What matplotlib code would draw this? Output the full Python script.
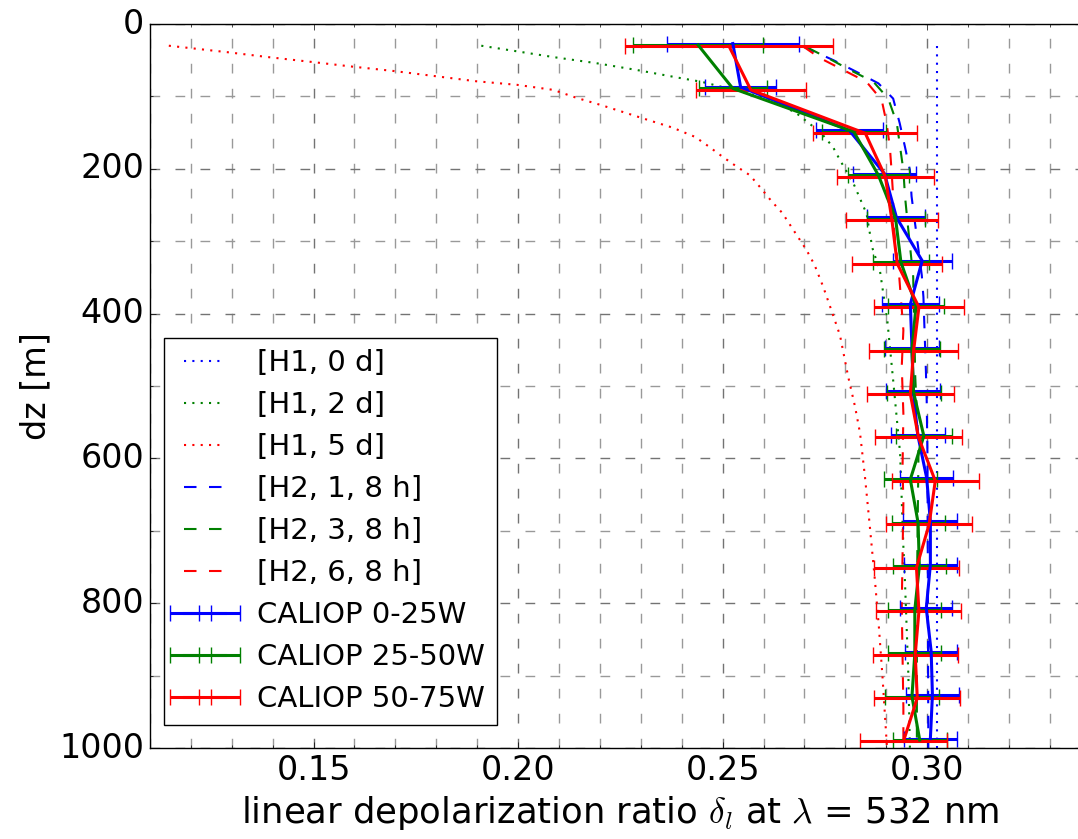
import numpy as np
import matplotlib
matplotlib.use("Agg")
import matplotlib.pyplot as plt
from matplotlib.ticker import MultipleLocator

plt.style.use("classic")
plt.rcParams["figure.facecolor"] = "white"
plt.rcParams["savefig.facecolor"] = "white"
plt.rcParams["mathtext.fontset"] = "cm"
plt.rcParams["lines.scale_dashes"] = True

# model profiles [H1, ...] (dz, delta)
h1_0d_dz = [30, 1000]
h1_0d = [0.3025, 0.3025]

h1_2d_dz = [30, 46, 54, 63.5, 74, 80, 90, 100, 110, 123, 150, 170, 188, 219, 262,
            309, 342, 411, 492, 593, 722, 772, 896, 1000]
h1_2d = [0.191, 0.209, 0.219, 0.229, 0.239, 0.245, 0.252, 0.259, 0.2635, 0.268,
         0.274, 0.277, 0.2787, 0.2819, 0.2852, 0.2866, 0.2885, 0.2903, 0.2917,
         0.2934, 0.2942, 0.2946, 0.2954, 0.2958]

h1_5d_dz = [30, 39, 46, 52.5, 59, 65, 72, 79, 84, 91, 102, 112, 122, 133, 143, 156,
            169.5, 183, 196, 209, 227, 245, 261, 281, 312, 333, 363, 397, 430, 487,
            529, 565, 625, 694, 772, 832, 902, 1000]
h1_5d = [0.1146, 0.129, 0.1393, 0.1497, 0.1597, 0.1697, 0.1797, 0.1896, 0.1997,
         0.2086, 0.2143, 0.2203, 0.2259, 0.232, 0.2377, 0.2433, 0.2467, 0.2499,
         0.2532, 0.2567, 0.2594, 0.262, 0.2646, 0.2669, 0.2705, 0.2725, 0.2746,
         0.2767, 0.2787, 0.2807, 0.2824, 0.2836, 0.2848, 0.286, 0.2873, 0.2882,
         0.2891, 0.2902]

# model profiles [H2, ...]
h2_1_dz = [31, 50, 66, 82, 103, 137, 170, 202, 238, 273, 347, 377, 478, 519, 600, 1000]
h2_1 = [0.2697, 0.2771, 0.2827, 0.2881, 0.2917, 0.2933, 0.2946, 0.2958, 0.2962,
        0.297, 0.2987, 0.2991, 0.2997, 0.2999, 0.3001, 0.3003]

h2_3_dz = [33, 48, 64.5, 80, 103, 137, 170, 202, 238, 273, 349, 487, 588, 740, 851, 1000]
h2_3 = [0.2709, 0.2761, 0.2815, 0.2869, 0.2905, 0.2926, 0.2934, 0.2942, 0.2946,
        0.2952, 0.2966, 0.2971, 0.2979, 0.2976, 0.2975, 0.2975]

h2_6_dz = [31, 47, 63.5, 80, 105, 137, 170, 202, 238, 273, 350, 423, 473, 538, 611,
           662, 805, 943, 1000]
h2_6 = [0.2697, 0.2738, 0.2795, 0.2852, 0.2889, 0.2901, 0.2909, 0.2913, 0.2917,
        0.2917, 0.2932, 0.2942, 0.2938, 0.2942, 0.294, 0.2942, 0.2938, 0.2942, 0.2942]

# CALIOP profiles
cal_dz = np.arange(30, 1000, 60)

cal_0_25 = [0.2525, 0.2544, 0.281, 0.2896, 0.2925, 0.2988, 0.2959, 0.2963, 0.2966,
            0.2977, 0.2999, 0.3008, 0.3008, 0.2998, 0.301, 0.3013, 0.3008]
cal_0_25_err = [0.0162, 0.0087, 0.0081, 0.0077, 0.0071, 0.0072, 0.0069, 0.0067,
                0.0066, 0.0066, 0.0065, 0.0066, 0.0065, 0.0064, 0.0064, 0.0065, 0.0065]

cal_25_50 = [0.244, 0.2525, 0.2821, 0.2881, 0.2923, 0.2936, 0.2973, 0.2963, 0.2967,
             0.2992, 0.2959, 0.2978, 0.2981, 0.297, 0.297, 0.2963, 0.2982]
cal_25_50_err = [0.0158, 0.0083, 0.0079, 0.0074, 0.0071, 0.0068, 0.0068, 0.0069,
                 0.0066, 0.0068, 0.0065, 0.0065, 0.0065, 0.0065, 0.0065, 0.0065, 0.0066]

cal_50_75 = [0.2516, 0.2569, 0.2849, 0.2898, 0.2914, 0.2927, 0.298, 0.2967, 0.2959,
             0.2979, 0.302, 0.3005, 0.2974, 0.298, 0.2971, 0.2976, 0.2942]
cal_50_75_err = [0.0255, 0.0135, 0.0127, 0.0119, 0.0113, 0.011, 0.011, 0.0108,
                 0.0107, 0.0106, 0.0107, 0.0105, 0.0104, 0.0104, 0.0104, 0.0105, 0.0106]

fig = plt.figure(figsize=(10.78, 8.39), dpi=100)
ax = fig.add_axes([150 / 1078, 91 / 839, 940.7 / 1078, 724 / 839])

dot = (0, (1, 3))
dash = (0, (6, 6))
ax.plot(h1_0d, h1_0d_dz, color="b", ls=dot, lw=1.5, label="[H1, 0 d]")
ax.plot(h1_2d, h1_2d_dz, color="g", ls=dot, lw=1.5, label="[H1, 2 d]")
ax.plot(h1_5d, h1_5d_dz, color="r", ls=dot, lw=1.5, label="[H1, 5 d]")
ax.plot(h2_1, h2_1_dz, color="b", ls=dash, lw=1.5, label="[H2, 1, 8 h]")
ax.plot(h2_3, h2_3_dz, color="g", ls=dash, lw=1.5, label="[H2, 3, 8 h]")
ax.plot(h2_6, h2_6_dz, color="r", ls=dash, lw=1.5, label="[H2, 6, 8 h]")

ax.errorbar(cal_0_25, cal_dz - 3, xerr=cal_0_25_err, color="b", lw=2.2,
            capsize=6, capthick=1, label="CALIOP 0-25W")
ax.errorbar(cal_25_50, cal_dz - 1, xerr=cal_25_50_err, color="g", lw=2.2,
            capsize=6, capthick=1, label="CALIOP 25-50W")
ax.errorbar(cal_50_75, cal_dz + 1, xerr=cal_50_75_err, color="r", lw=2.2,
            capsize=6, capthick=1, label="CALIOP 50-75W")

ax.set_xlim(0.11, 0.34)
ax.set_ylim(1000, 0)
ax.xaxis.set_major_locator(MultipleLocator(0.05))
ax.xaxis.set_minor_locator(MultipleLocator(0.01))
ax.yaxis.set_major_locator(MultipleLocator(200))
ax.yaxis.set_minor_locator(MultipleLocator(100))
ax.xaxis.set_major_formatter(plt.FormatStrFormatter("%.2f"))
ax.tick_params(labelsize=24)
ax.grid(which="major", color="0.45", linestyle=(0, (7, 11)), lw=1)
ax.grid(which="minor", color="0.6", linestyle=(0, (7, 11)), lw=1)
ax.set_axisbelow(True)

ax.set_xlabel(r"linear depolarization ratio $\delta_l$ at $\lambda$ = 532 nm", fontsize=25.5)
ax.set_ylabel("dz [m]", fontsize=24)

ax.legend(loc="lower left", bbox_to_anchor=(0.0149, 0.0318), borderaxespad=0,
          fontsize=21, numpoints=2, labelspacing=0.48)

fig.savefig("out.png", dpi=100)
